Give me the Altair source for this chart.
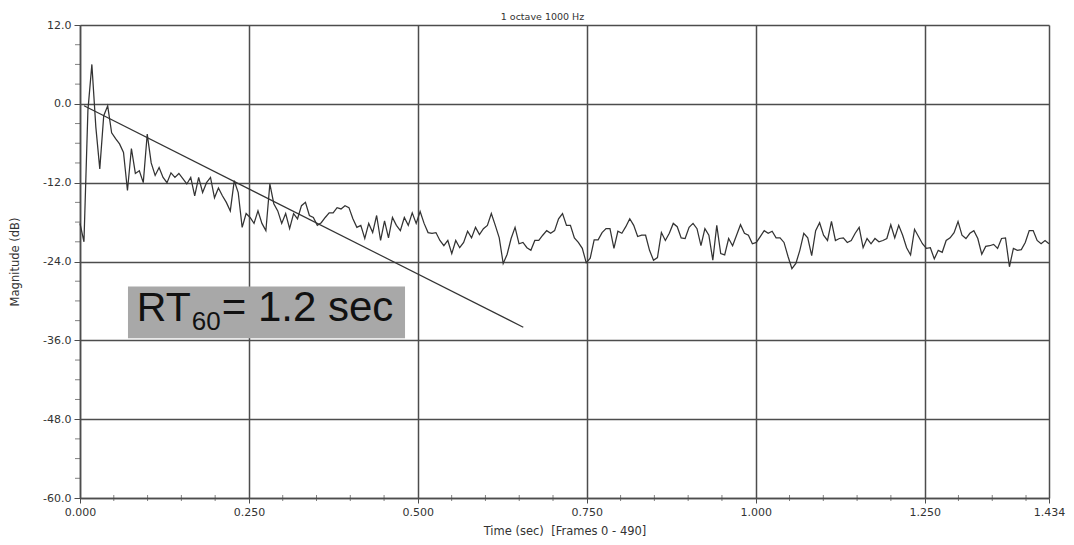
import altair as alt
import pandas as pd

# ---------------- data ----------------
TITLE = "1 octave 1000 Hz"
X_TITLE = "Time (sec) \u00a0[Frames 0 - 490]"
Y_TITLE = "Magnitude (dB)"
TOTAL_FRAMES = 490          # frames 0 - 490
TOTAL_TIME = 1.434          # seconds
FRAME_STEP = 2              # one value read every 2 frames

magnitude_db = [
    -18.2, -21.0, -1.0, 6.0, -3.5, -9.9, -1.8, -0.3, -4.4, -5.3,
    -6.1, -7.4, -13.2, -6.8, -10.6, -10.2, -12.0, -4.6, -9.0, -10.9,
    -9.7, -11.2, -12.0, -10.5, -11.2, -10.6, -11.4, -12.2, -11.2, -14.0,
    -11.2, -13.5, -12.0, -11.2, -14.3, -12.8, -14.0, -15.0, -16.3, -11.7,
    -13.5, -18.8, -16.7, -17.3, -18.2, -16.3, -18.2, -19.3, -12.2, -15.2,
    -16.3, -18.2, -16.7, -19.0, -16.7, -17.5, -15.5, -15.0, -17.0, -17.3,
    -18.5, -18.1, -17.3, -16.6, -16.6, -15.8, -16.0, -15.5, -15.8, -17.5,
    -18.8, -18.5, -20.5, -18.2, -19.6, -17.0, -20.8, -17.8, -20.4, -17.3,
    -18.5, -19.3, -17.3, -18.5, -16.6, -18.2, -16.4, -18.2, -19.6, -19.7,
    -19.6, -20.8, -21.6, -20.8, -22.8, -20.8, -21.9, -21.1, -19.4, -20.4,
    -18.8, -19.9, -19.0, -18.5, -16.7, -18.5, -20.4, -24.3, -22.9, -20.5,
    -18.8, -21.3, -21.1, -21.9, -22.3, -20.8, -20.8, -20.0, -19.3, -19.7,
    -19.3, -17.5, -16.7, -18.5, -18.5, -20.4, -21.1, -22.0, -24.2, -23.5,
    -20.7, -20.7, -19.6, -19.0, -19.0, -22.0, -19.4, -19.7, -18.7, -17.5,
    -18.5, -20.2, -20.0, -20.0, -22.3, -23.8, -23.4, -19.6, -20.8, -19.7,
    -18.2, -18.7, -20.4, -20.5, -18.8, -18.2, -19.0, -21.6, -19.0, -20.0,
    -23.8, -18.5, -22.8, -23.0, -20.5, -21.6, -20.0, -18.4, -19.7, -20.0,
    -21.3, -21.1, -20.2, -19.3, -19.7, -19.4, -20.4, -20.4, -21.1, -23.2,
    -25.1, -24.3, -22.3, -19.7, -20.4, -23.1, -19.3, -18.1, -20.0, -20.8,
    -17.9, -20.8, -20.5, -20.4, -21.1, -20.8, -19.7, -18.8, -21.9, -20.5,
    -21.3, -20.5, -21.0, -20.8, -20.5, -18.4, -20.4, -18.5, -20.0, -21.9,
    -23.0, -19.1, -20.2, -21.3, -22.0, -21.9, -23.6, -22.3, -22.6, -20.8,
    -20.4, -19.6, -17.9, -20.0, -20.5, -19.7, -19.3, -20.5, -22.9, -21.7,
    -21.6, -21.4, -22.0, -20.5, -20.4, -24.8, -22.0, -22.3, -22.2, -21.1,
    -19.3, -19.3, -20.8, -21.3, -20.8, -21.3,
]

# decay fit line (RT60 estimate)
fit_time = [0.006, 0.656]
fit_db = [-0.3, -34.0]

# axis ticks
x_major = [0.0, 0.25, 0.5, 0.75, 1.0, 1.25, 1.434]
x_minor = [0.05, 0.10, 0.15, 0.20, 0.30, 0.35, 0.40, 0.45, 0.55, 0.60,
           0.65, 0.70, 0.80, 0.85, 0.90, 0.95, 1.05, 1.10, 1.15, 1.20,
           1.30, 1.35, 1.40]
y_major = [-60, -48, -36, -24, -12, 0, 12]
y_minor = [-57, -54, -51, -45, -42, -39, -33, -30, -27, -21, -18, -15,
           -9, -6, -3, 3, 6, 9]

# annotation box and its label
box_time = [0.071, 0.481]
box_db = [-27.8, -35.7]
label_time = 0.084
label_db = -33.1
label_main = "RT"
label_sub = "60"
label_rest = "= 1.2 sec"

# ---------------- tables ----------------
frames = [i * FRAME_STEP for i in range(len(magnitude_db))]
curve = pd.DataFrame({
    "t": [f * TOTAL_TIME / TOTAL_FRAMES for f in frames],
    "db": magnitude_db,
})
fit = pd.DataFrame({"t": fit_time, "db": fit_db})
box = pd.DataFrame({"t": [box_time[0]], "t2": [box_time[1]],
                    "db": [box_db[0]], "db2": [box_db[1]]})
lab = pd.DataFrame({"t": [label_time], "db": [label_db]})
xmin_df = pd.DataFrame({"t": x_minor})
ymin_df = pd.DataFrame({"db": y_minor})

W, H = 969, 473
FONT = "DejaVu Sans"
GRID = "#4d4d4d"
TXT = "#333333"

xscale = alt.Scale(domain=[0, TOTAL_TIME], nice=False, zero=False)
yscale = alt.Scale(domain=[-60, 12], nice=False, zero=False)

xaxis = alt.Axis(
    values=x_major, format=".3f", title=X_TITLE, grid=True,
    gridColor=GRID, gridWidth=1.5, domainColor=GRID, domainWidth=1.5,
    tickColor=GRID, tickSize=5, labelPadding=3, labelFont=FONT,
    labelFontSize=11, labelColor=TXT, labelFlush=False,
    titleFont=FONT, titleFontSize=11.5, titleFontWeight="normal",
    titleColor=TXT, titlePadding=8,
)
yaxis = alt.Axis(
    values=y_major,
    labelExpr="datum.value < 0 ? '-' + format(-datum.value, '.1f') : format(datum.value, '.1f')",
    title=Y_TITLE, grid=True, gridColor=GRID, gridWidth=1.5,
    domainColor=GRID, domainWidth=1.5, tickColor=GRID, tickSize=6,
    labelPadding=3, labelFont=FONT, labelFontSize=11, labelColor=TXT,
    labelFlush=False, titleFont=FONT, titleFontSize=11.5,
    titleFontWeight="normal", titleColor=TXT, titlePadding=22,
)

X = alt.X("t:Q", scale=xscale, axis=xaxis)
Y = alt.Y("db:Q", scale=yscale, axis=yaxis)

box_layer = alt.Chart(box).mark_rect(color="#a8a8a8").encode(
    x=X, x2="t2:Q", y=Y, y2="db2:Q"
)

curve_layer = alt.Chart(curve).mark_line(
    color="#333333", strokeWidth=1.25, interpolate="linear"
).encode(x=X, y=Y)

fit_layer = alt.Chart(fit).mark_line(color="#333333", strokeWidth=1.2).encode(
    x=X, y=Y
)

main_txt = alt.Chart(lab).mark_text(
    text=label_main, font="Liberation Sans", fontSize=41, align="left",
    baseline="alphabetic", color="#111111"
).encode(x=X, y=Y)
sub_txt = alt.Chart(lab).mark_text(
    text=label_sub, font="Liberation Sans", fontSize=26, align="left",
    baseline="alphabetic", color="#111111", dx=55, dy=9
).encode(x=X, y=Y)
rest_txt = alt.Chart(lab).mark_text(
    text=label_rest, font="Liberation Sans", fontSize=42, align="left",
    baseline="alphabetic", color="#111111", dx=85
).encode(x=X, y=Y)

xminor_layer = alt.Chart(xmin_df).mark_tick(
    color=GRID, thickness=1, size=6, orient="vertical"
).encode(x=X, y=alt.value(H))
yminor_layer = alt.Chart(ymin_df).mark_tick(
    color=GRID, thickness=1, size=5, orient="horizontal"
).encode(y=Y, x=alt.value(-2.5))

chart = alt.layer(
    box_layer, curve_layer, fit_layer, main_txt, sub_txt, rest_txt,
    xminor_layer, yminor_layer,
).properties(
    width=W, height=H,
    title=alt.TitleParams(TITLE, font=FONT, fontSize=9.5, fontWeight="normal",
                          color=TXT, anchor="middle", offset=-2, dx=-22),
    autosize=alt.AutoSizeParams(type="none"),
    padding={"left": 72, "top": 17, "right": 17, "bottom": 38},
    background="white",
).configure_view(stroke=None)

chart.save("out.html", embed_options={"renderer": "svg", "actions": False})
